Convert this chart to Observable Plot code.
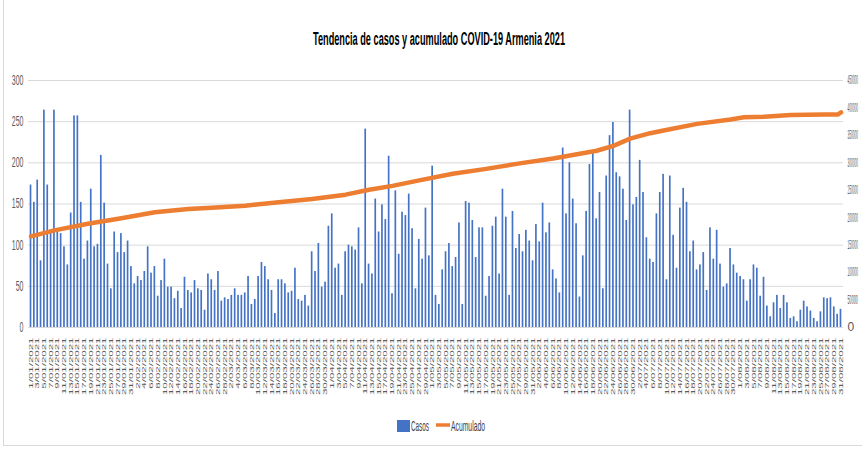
<!DOCTYPE html>
<html>
<head>
<meta charset="utf-8">
<script src="https://cdn.jsdelivr.net/npm/d3@7"></script>
<script src="https://cdn.jsdelivr.net/npm/@observablehq/plot@0.6"></script>
<style>
  html, body { margin: 0; padding: 0; background: #fff; overflow: hidden; width: 862px; height: 453px; }
  #frame { position: absolute; left: 3px; top: 0; width: 870px; height: 446px; border-left: 1px solid #d9d9d9; border-bottom: 1px solid #d9d9d9; box-sizing: border-box; }
  #title { position: absolute; left: 0; top: 0; }
  #chart { position: absolute; left: 0; top: 0; }
  #legend { position: absolute; left: 0; top: 400px; }
  svg text { font-family: "Liberation Sans", Arial, sans-serif; }
</style>
</head>
<body>
<div id="frame"></div>
<div id="chart"></div>
<div id="title"></div>
<div id="legend"></div>
<script>
// ---- Data ----
const titulo = "Tendencia de casos y acumulado COVID-19 Armenia 2021";
const serieCasos = "Casos";
const serieAcumulado = "Acumulado";

// Daily cases, 1/01/2021 .. 31/08/2021 (243 days)
const casos = [
  173,152,179,81,264,173,118,264,118,114,98,76,139,257,257,152,83,105,168,98,101,209,151,77,47,116,91,114,91,105,74,53,62,57,68,98,66,74,38,57,83,49,49,35,44,23,61,45,42,57,47,45,21,65,58,45,68,
  32,36,34,39,47,39,39,42,62,28,34,62,79,74,58,45,17,58,58,53,42,44,72,34,32,39,26,92,68,102,49,55,123,138,72,77,39,92,100,98,94,121,53,241,77,65,156,116,149,131,208,
  41,166,89,140,136,162,120,47,107,83,145,87,196,39,28,70,92,102,74,85,127,28,153,151,130,85,121,121,38,62,123,134,65,168,134,39,141,96,113,92,118,105,81,125,104,151,115,127,70,59,42,
  218,138,200,156,126,37,87,141,198,213,132,164,47,184,233,249,188,183,168,130,264,149,158,203,164,109,83,79,138,164,186,58,184,112,72,145,169,152,92,105,70,76,91,45,121,83,118,77,49,53,96,76,66,62,58,32,58,76,72,38,61,26,13,30,39,23,39,30,11,13,7,21,32,25,20,11,7,19,
  36,35,36,25,16,22
];

// Cumulative series, read at sampled dates
const acumFechas = ["1/01/2021","8/01/2021","18/01/2021","28/01/2021","7/02/2021","17/02/2021","24/02/2021","6/03/2021","16/03/2021","26/03/2021","5/04/2021","12/04/2021","19/04/2021","27/04/2021","7/05/2021","17/05/2021","27/05/2021","6/06/2021","19/06/2021","24/06/2021","29/06/2021","5/07/2021","9/07/2021","19/07/2021","29/07/2021","2/08/2021","8/08/2021","16/08/2021","26/08/2021","30/08/2021","31/08/2021"];
const acumulado = [166000,177000,189000,199000,210000,216000,218000,222000,228000,234000,242000,251000,258000,268000,280000,289000,299000,308000,322000,331000,344000,354000,359000,371000,379000,383000,384000,387000,388000,388000,392000];

const yTicksIzq = [0,50,100,150,200,250,300];
const yTicksDer = [0,50000,100000,150000,200000,250000,300000,350000,400000,450000];

const colorCasos = "#4472C4";
const colorAcum = "#ED7D31";

// ---- Build ----
const fmt = d => `${d.getUTCDate()}/${String(d.getUTCMonth() + 1).padStart(2, "0")}/${d.getUTCFullYear()}`;
const dias = d3.utcDays(new Date(Date.UTC(2021, 0, 1)), new Date(Date.UTC(2021, 8, 1)));
const fechas = dias.map(fmt);
const datosCasos = fechas.map((f, i) => ({fecha: f, casos: casos[i]}));
const datosAcum = acumFechas.map((f, i) => ({fecha: f, valor: acumulado[i]}));
const ratio = 450000 / 300;
const xTicks = fechas.filter((_, i) => i % 2 === 0);

const plot = Plot.plot({
  width: 862,
  height: 400,
  marginTop: 80,
  marginBottom: 73,
  marginLeft: 28,
  marginRight: 19,
  style: {background: "transparent", overflow: "visible"},
  x: {type: "band", domain: fechas, padding: 0.5, axis: null},
  y: {domain: [0, 300], axis: null},
  marks: [
    Plot.gridY(yTicksIzq, {stroke: "#d9d9d9", strokeOpacity: 1, strokeWidth: 1}),
    Plot.barY(datosCasos, {x: "fecha", y: "casos", fill: colorCasos}),
    Plot.line(datosAcum, {x: "fecha", y: d => d.valor / ratio, stroke: colorAcum, strokeWidth: 4.5}),
    Plot.axisY(yTicksIzq, {anchor: "left", label: null, tickSize: 0, tickPadding: 5, fontSize: 14, fill: "#595959"}),
    Plot.axisY(yTicksDer.map(v => v / ratio), {anchor: "right", label: null, tickSize: 0, tickPadding: 4, fontSize: 12, fill: "#595959", tickFormat: v => String(Math.round(v * ratio))}),
    Plot.axisX(xTicks, {anchor: "bottom", label: null, tickSize: 0, tickPadding: 10, tickRotate: -90, fontSize: 5, fill: "#595959"})
  ]
});
document.getElementById("chart").appendChild(plot);

function squeeze(sel, k) {
  sel.each(function () {
    const L = this.getComputedTextLength();
    if (L > 0) {
      this.setAttribute("textLength", (L * k).toFixed(2));
      this.setAttribute("lengthAdjust", "spacingAndGlyphs");
    }
  });
}
// horizontal squeeze by transform, about the text's left edge
function squeezeT(sel, maxW) {
  sel.each(function () {
    const bb = this.getBBox();
    if (!(bb.width > 0)) return;
    const k = Math.min(1, maxW / bb.width);
    const bx = isFinite(bb.x) ? bb.x : 0;
    const t = this.getAttribute("transform") || "";
    this.setAttribute("transform", `${t} translate(${bx.toFixed(2)},0) scale(${k.toFixed(3)},1) translate(${(-bx).toFixed(2)},0)`.trim());
  });
}
const s = d3.select(plot);
const yLabelGroups = s.selectAll('g[aria-label$="tick label"]').filter(function () {
  return !this.getAttribute("aria-label").startsWith("x-axis");
});
yLabelGroups.each(function () {
  const texts = d3.select(this).selectAll("text");
  const anchor = d3.select(this).attr("text-anchor");
  if (anchor === "start") squeezeT(texts, 10.5);
  else squeeze(texts, 0.5);
});
squeeze(s.selectAll('g[aria-label="x-axis tick label"] text'), 2.3);

// Title
const tsvg = d3.select("#title").append("svg").attr("width", 862).attr("height", 60);
tsvg.append("text").attr("x", 439).attr("y", 45).attr("text-anchor", "middle")
  .attr("font-size", 18).attr("font-weight", "bold").attr("fill", "#000")
  .attr("textLength", 252).attr("lengthAdjust", "spacingAndGlyphs").text(titulo);

// Legend
const lsvg = d3.select("#legend").append("svg").attr("width", 862).attr("height", 53);
lsvg.append("rect").attr("x", 397).attr("y", 20).attr("width", 13).attr("height", 12).attr("fill", colorCasos);
lsvg.append("text").attr("x", 411).attr("y", 31).attr("font-size", 14).attr("fill", "#404040")
  .attr("textLength", 18).attr("lengthAdjust", "spacingAndGlyphs").text(serieCasos);
lsvg.append("line").attr("x1", 436).attr("x2", 450).attr("y1", 25).attr("y2", 25).attr("stroke", colorAcum).attr("stroke-width", 3.5);
lsvg.append("text").attr("x", 451).attr("y", 31).attr("font-size", 14).attr("fill", "#404040")
  .attr("textLength", 34).attr("lengthAdjust", "spacingAndGlyphs").text(serieAcumulado);
</script>
</body>
</html>
